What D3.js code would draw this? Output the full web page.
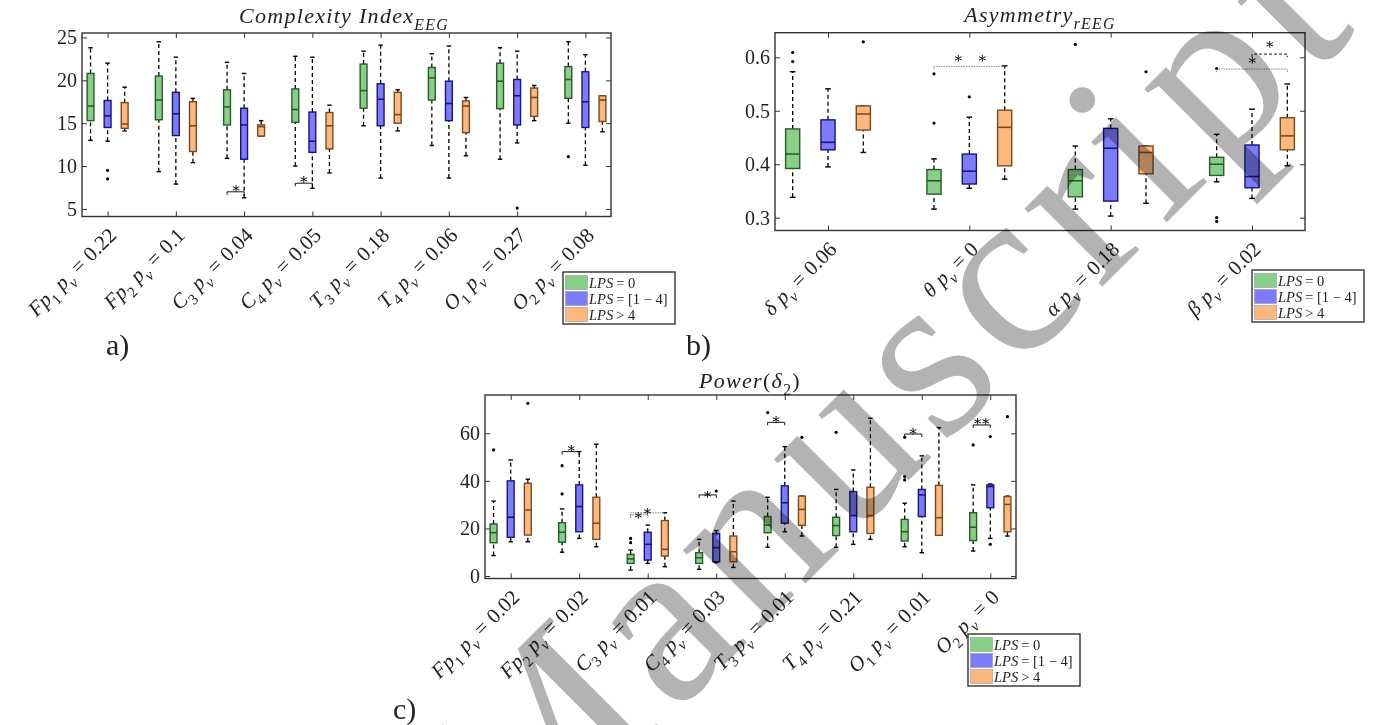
<!DOCTYPE html>
<html lang="en">
<head>
<meta charset="utf-8" />
<title>LPS boxplots</title>
<script src="https://cdn.jsdelivr.net/npm/d3@7"></script>
<style>
  body { margin: 0; background: #fff; }
  svg text { font-family: "Liberation Serif", "DejaVu Serif", serif; fill: #222; }
  .axis line { stroke: #333; stroke-width: 1px; }
  .axis text { font-size: 20px; fill: #222; font-family: "Liberation Serif", serif; }
  .frame { fill: none; stroke: #333; stroke-width: 1.4px; }
  .whisker { stroke: #000; stroke-width: 1.3px; stroke-dasharray: 4, 3; }
  .cap { stroke: #000; stroke-width: 1.4px; }
  .outlier { fill: #000; }
  .bracket { fill: none; stroke: #000; stroke-width: 0.9px; }
  .bracket.dotted { stroke: #777; stroke-dasharray: 1.5, 1; }
  .bracket.dashed { stroke: #000; stroke-dasharray: 3, 2; }
  .star { font-size: 15px; fill: #000; }
  .legend-box { fill: #fff; stroke: #333; stroke-width: 1.4px; }
  .watermark { fill: #b3b3b3; mix-blend-mode: multiply; letter-spacing: 11px; }
</style>
</head>
<body>
<svg id="fig" width="1376" height="725"></svg>
<script>
// ---- shared ----
var seriesLabels = ["= 0", "= [1 \u2212 4]", "> 4"];
var fills = ["#88cf88", "#7c7cfa", "#fdb87f"];
var edges = ["#2a5a2a", "#16167a", "#7a4a1c"];

// ---- a) complexity index, per channel: [low whisker, q1, median, q3, high whisker]
var chanA = ["Fp", "Fp", "C", "C", "T", "T", "O", "O"];
var subA = ["1", "2", "3", "4", "3", "4", "1", "2"];
var pvA = ["0.22", "0.1", "0.04", "0.05", "0.18", "0.06", "0.27", "0.08"];
var lps0A = [[13.0, 15.3, 17.0, 20.8, 23.8], [9.35, 15.4, 17.7, 20.5, 24.5], [10.9, 14.8, 16.9, 18.9, 22.1],
  [10.0, 15.1, 16.6, 19.0, 22.8], [14.7, 16.75, 18.8, 21.9, 23.4], [12.4, 17.7, 20.3, 21.5, 23.1],
  [10.8, 16.7, 19.9, 22.0, 23.8], [15.0, 17.9, 20.1, 21.6, 24.5]];
var lps14A = [[12.9, 14.5, 15.86, 17.65, 22.0], [7.9, 13.56, 16.1, 18.6, 22.7], [6.3, 10.8, 14.8, 16.75, 20.8],
  [7.4, 11.6, 12.9, 16.3, 22.7], [8.6, 14.7, 17.8, 19.6, 24.1], [8.6, 15.3, 17.3, 19.9, 24.0],
  [12.7, 14.8, 18.2, 20.1, 23.4], [10.1, 14.5, 17.5, 21.0, 23.0]];
var lps4A = [[14.1, 14.4, 14.9, 17.4, 19.2], [10.4, 11.7, 14.7, 17.5, 17.9], [13.5, 13.5, 14.6, 14.8, 15.3],
  [9.2, 12.0, 14.7, 16.25, 17.1], [14.1, 15.0, 16.0, 18.6, 18.9], [11.2, 13.9, 17.0, 17.6, 18.0],
  [15.3, 15.8, 18.0, 19.1, 19.4], [14.0, 15.2, 17.7, 18.2, 18.2]];
// outliers: [series, channel, value]
var outA = [[1, 0, 9.5], [1, 0, 8.5], [1, 6, 5.1], [0, 7, 11.1]];
// significance: [channel, from series, to series, y, style, star offsets, star y]
var sigA = [[2, 0, 1, 7.0, "solid", [-0.12], 7.6], [3, 0, 1, 8.0, "solid", [-0.13], 8.6]];

// ---- b) asymmetry, per band
var bandB = ["\u03b4", "\u03b8", "\u03b1", "\u03b2"];
var pvB = ["0.06", "0", "0.18", "0.02"];
var lps0B = [[0.338, 0.392, 0.419, 0.466, 0.573], [0.316, 0.344, 0.369, 0.390, 0.41],
  [0.316, 0.339, 0.369, 0.390, 0.434], [0.367, 0.379, 0.400, 0.413, 0.456]];
var lps14B = [[0.395, 0.427, 0.441, 0.483, 0.541], [0.355, 0.363, 0.387, 0.419, 0.488],
  [0.303, 0.331, 0.430, 0.467, 0.485], [0.336, 0.356, 0.377, 0.436, 0.503]];
var lps4B = [[0.422, 0.464, 0.494, 0.509, 0.509], [0.372, 0.397, 0.469, 0.501, 0.584],
  [0.327, 0.382, 0.422, 0.434, 0.434], [0.397, 0.427, 0.453, 0.487, 0.550]];
var outB = [[0, 0, 0.592], [0, 0, 0.609], [2, 0, 0.629], [0, 1, 0.477], [0, 1, 0.569], [1, 1, 0.526],
  [0, 2, 0.624], [2, 2, 0.573], [0, 3, 0.579], [0, 3, 0.300], [0, 3, 0.293]];
var sigB = [[1, 0, 2, 0.583, "dotted", [-0.08, 0.09], 0.600], [3, 0, 2, 0.578, "dotted", [0.0], 0.596],
  [3, 1, 2, 0.606, "dashed", [0.125], 0.626]];

// ---- c) power delta2, per channel
var pvC = ["0.02", "0.02", "0.01", "0.03", "0.01", "0.21", "0.01", "0"];
var lps0C = [[8.6, 14.0, 18.2, 21.9, 31.5], [10.0, 14.2, 18.4, 22.4, 28.2], [2.5, 5.3, 7.2, 9.1, 10.9],
  [2.8, 5.3, 7.7, 9.8, 15.4], [12.1, 18.2, 21.4, 25.0, 33.1], [12.1, 17.0, 21.2, 24.7, 36.4],
  [12.3, 14.7, 18.6, 23.8, 30.6], [10.5, 14.9, 20.5, 26.6, 38.3]];
var lps14C = [[14.4, 16.3, 24.7, 40.0, 48.8], [15.8, 18.6, 29.2, 38.3, 52.3], [5.3, 6.7, 13.3, 18.4, 21.4],
  [5.6, 6.0, 11.9, 17.9, 19.1], [18.6, 22.2, 30.8, 37.9, 54.4], [13.3, 18.6, 25.4, 35.5, 44.6],
  [9.8, 25.0, 34.1, 36.4, 50.5], [15.8, 28.7, 37.6, 38.3, 38.7]];
var lps4C = [[14.4, 17.2, 27.8, 39.0, 40.7], [12.3, 15.4, 22.2, 33.1, 55.4], [3.9, 8.4, 11.2, 23.3, 26.6],
  [3.6, 6.0, 10.2, 16.8, 31.5], [16.8, 21.3, 28.0, 33.6, 33.6], [15.4, 17.9, 25.4, 37.3, 66.3],
  [17.1, 17.1, 24.5, 38.1, 62.4], [16.8, 18.6, 30.1, 33.4, 33.6]];
var outC = [[0, 0, 53.0], [2, 0, 72.6], [0, 1, 46.4], [0, 1, 34.5], [0, 2, 14.0], [0, 2, 15.8],
  [1, 3, 35.7], [0, 4, 68.7], [2, 4, 58.3], [0, 5, 60.4], [0, 6, 40.4], [0, 6, 41.8], [0, 6, 58.3],
  [0, 7, 55.1], [1, 7, 58.6], [1, 7, 13.3], [2, 7, 67.0]];
var sigC = [[1, 0, 1, 52.3, "solid", [-0.12], 54.4], [2, 0, 2, 26.6, "dotted", [-0.01], 27.6],
  [2, 0, 1, 25.7, "dotted", [-0.14], 26.0], [3, 0, 1, 34.1, "solid", [-0.13], 35.0],
  [4, 0, 1, 64.6, "solid", [-0.13], 66.6], [6, 0, 1, 59.7, "solid", [-0.13], 61.4],
  [7, 0, 1, 63.5, "solid", [-0.19, -0.07], 65.6]];

var svg = d3.select("#fig");

function mathText(sel, parts, size) {
  var shift = 0;
  parts.forEach(function(pt) {
    var ts = sel.append("tspan").text(pt.t);
    if (pt.i) ts.attr("font-style", "italic");
    var target = pt.s ? size * 0.3 : 0;
    if (target !== shift) { ts.attr("dy", target - shift); shift = target; }
    if (pt.s) ts.attr("font-size", size * 0.72);
    if (pt.dx) ts.attr("dx", pt.dx);
  });
}

function drawPanel(p) {
  var g = svg.append("g");
  var n = p.labels.length;
  var x = d3.scaleLinear().domain([-0.375, n - 0.625]).range([p.left, p.right]);
  var y = d3.scaleLinear().domain(p.yDomain).range([p.bottom, p.top]);

  g.append("g").attr("class", "axis").attr("transform", "translate(" + p.left + ",0)")
    .call(d3.axisLeft(y).tickValues(p.yTicks).tickFormat(d3.format(p.yFmt)).tickSize(-5).tickPadding(5).tickSizeOuter(0));
  g.append("g").attr("class", "axis").attr("transform", "translate(" + p.right + ",0)")
    .call(d3.axisRight(y).tickValues(p.yTicks).tickSize(-5).tickFormat("").tickSizeOuter(0));
  g.append("g").attr("class", "axis").attr("transform", "translate(0," + p.bottom + ")")
    .call(d3.axisBottom(x).tickValues(d3.range(n)).tickSize(-5).tickFormat("").tickSizeOuter(0));
  g.append("g").attr("class", "axis").attr("transform", "translate(0," + p.top + ")")
    .call(d3.axisTop(x).tickValues(d3.range(n)).tickSize(-5).tickFormat("").tickSizeOuter(0));
  g.selectAll(".domain").remove();
  g.selectAll(".axis text").attr("fill", "#222");

  var hw = x(0.05) - x(0);
  var capHw = Math.max(2.2, hw * 0.4);

  p.series.forEach(function(stats, s) {
    var off = (s - 1) * 0.25;
    var sg = g.append("g");
    stats.forEach(function(d, i) {
      var cx = x(i + off);
      sg.append("line").attr("class", "whisker").attr("x1", cx).attr("x2", cx).attr("y1", y(d[0])).attr("y2", y(d[1]));
      sg.append("line").attr("class", "whisker").attr("x1", cx).attr("x2", cx).attr("y1", y(d[3])).attr("y2", y(d[4]));
      sg.append("line").attr("class", "cap").attr("x1", cx - capHw).attr("x2", cx + capHw).attr("y1", y(d[0])).attr("y2", y(d[0]));
      sg.append("line").attr("class", "cap").attr("x1", cx - capHw).attr("x2", cx + capHw).attr("y1", y(d[4])).attr("y2", y(d[4]));
      sg.append("rect").attr("x", cx - hw).attr("width", 2 * hw)
        .attr("y", y(d[3])).attr("height", Math.max(1, y(d[1]) - y(d[3])))
        .attr("fill", fills[s]).attr("stroke", edges[s]).attr("stroke-width", 1.4);
      sg.append("line").attr("x1", cx - hw).attr("x2", cx + hw).attr("y1", y(d[2])).attr("y2", y(d[2]))
        .attr("stroke", edges[s]).attr("stroke-width", 1.6);
    });
  });

  g.selectAll("circle.outlier").data(p.outliers).enter().append("circle")
    .attr("class", "outlier")
    .attr("cx", function(d) { return x(d[1] + (d[0] - 1) * 0.25); })
    .attr("cy", function(d) { return y(d[2]); })
    .attr("r", 1.6);

  p.sig.forEach(function(d) {
    var xa = x(d[0] + (d[1] - 1) * 0.25), xb = x(d[0] + (d[2] - 1) * 0.25), yy = y(d[3]);
    g.append("path").attr("class", "bracket " + d[4])
      .attr("d", "M" + xa + "," + (yy + 3) + "V" + yy + "H" + xb + "V" + (yy + 3));
    d[5].forEach(function(o) {
      g.append("text").attr("class", "star").attr("text-anchor", "middle")
        .attr("x", x(d[0] + o)).attr("y", y(d[6]) + 6).text("\u2217");
    });
  });

  g.append("rect").attr("class", "frame")
    .attr("x", p.left).attr("y", p.top).attr("width", p.right - p.left).attr("height", p.bottom - p.top);

  // rotated tick labels
  p.labels.forEach(function(parts, i) {
    var lx = x(i) + 10, ly = p.bottom + 20;
    var t = g.append("text").attr("text-anchor", "end").attr("font-size", 21)
      .attr("transform", "translate(" + lx + "," + ly + ") rotate(-45)");
    mathText(t, parts, 21);
  });

  var tt = g.append("text").attr("text-anchor", "middle").attr("font-size", 22)
    .attr("letter-spacing", 1.3).attr("x", p.titleX).attr("y", p.titleY);
  mathText(tt, p.title, 22);

  // legend
  var lg = g.append("g").attr("transform", "translate(" + p.legend[0] + "," + p.legend[1] + ")");
  lg.append("rect").attr("class", "legend-box").attr("width", 112).attr("height", 52);
  seriesLabels.forEach(function(lab, s) {
    lg.append("rect").attr("x", 2.5).attr("y", 3.5 + s * 16).attr("width", 22).attr("height", 14)
      .attr("fill", fills[s]).attr("stroke", "#999").attr("stroke-width", 0.6);
    var lt = lg.append("text").attr("x", 26).attr("y", 15.5 + s * 16).attr("font-size", 14.5);
    mathText(lt, [{ t: "LPS", i: 1 }, { t: lab, dx: 3 }], 14.5);
  });

  svg.append("text").attr("x", p.tag[0]).attr("y", p.tag[1]).attr("font-size", 30).text(p.tag[2]);
}

function chanLabel(ch, sub, pv) {
  return [{ t: ch, i: 1 }, { t: sub, s: 1 }, { t: "p", i: 1, dx: 6 }, { t: "v", i: 1, s: 1 },
    { t: "=", dx: 6 }, { t: pv, dx: 6 }];
}

drawPanel({
  left: 82, right: 611, top: 33, bottom: 216.5, yDomain: [4.12, 25.52], yTicks: [5, 10, 15, 20, 25], yFmt: "d",
  labels: chanA.map(function(c, i) { return chanLabel(c, subA[i], pvA[i]); }),
  series: [lps0A, lps14A, lps4A], outliers: outA, sig: sigA,
  title: [{ t: "Complexity Index", i: 1 }, { t: "EEG", i: 1, s: 1 }], titleX: 344, titleY: 23,
  legend: [563, 272], tag: [106, 355, "a)"]
});

drawPanel({
  left: 775, right: 1305, top: 32.7, bottom: 230.5, yDomain: [0.276, 0.646], yTicks: [0.3, 0.4, 0.5, 0.6], yFmt: ".1f",
  labels: bandB.map(function(b, i) {
    return [{ t: b, i: 1 }, { t: "p", i: 1, dx: 6 }, { t: "v", i: 1, s: 1 }, { t: "=", dx: 6 }, { t: pvB[i], dx: 6 }];
  }),
  series: [lps0B, lps14B, lps4B], outliers: outB, sig: sigB,
  title: [{ t: "Asymmetry", i: 1 }, { t: "rEEG", i: 1, s: 1 }], titleX: 1040, titleY: 22,
  legend: [1252, 270], tag: [686, 355, "b)"]
});

drawPanel({
  left: 485, right: 1016, top: 395, bottom: 578.5, yDomain: [-1.05, 76.1], yTicks: [0, 20, 40, 60], yFmt: "d",
  labels: chanA.map(function(c, i) { return chanLabel(c, subA[i], pvC[i]); }),
  series: [lps0C, lps14C, lps4C], outliers: outC, sig: sigC,
  title: [{ t: "Power", i: 1 }, { t: "(" }, { t: "\u03b4", i: 1 }, { t: "2", s: 1 }, { t: ")" }], titleX: 750, titleY: 388,
  legend: [968, 634], tag: [393, 719, "c)"]
});

// watermark
svg.append("text").attr("class", "watermark").attr("font-size", 240)
  .attr("transform", "translate(515,874) rotate(-45)").text("Manuscript");
</script>
</body>
</html>
